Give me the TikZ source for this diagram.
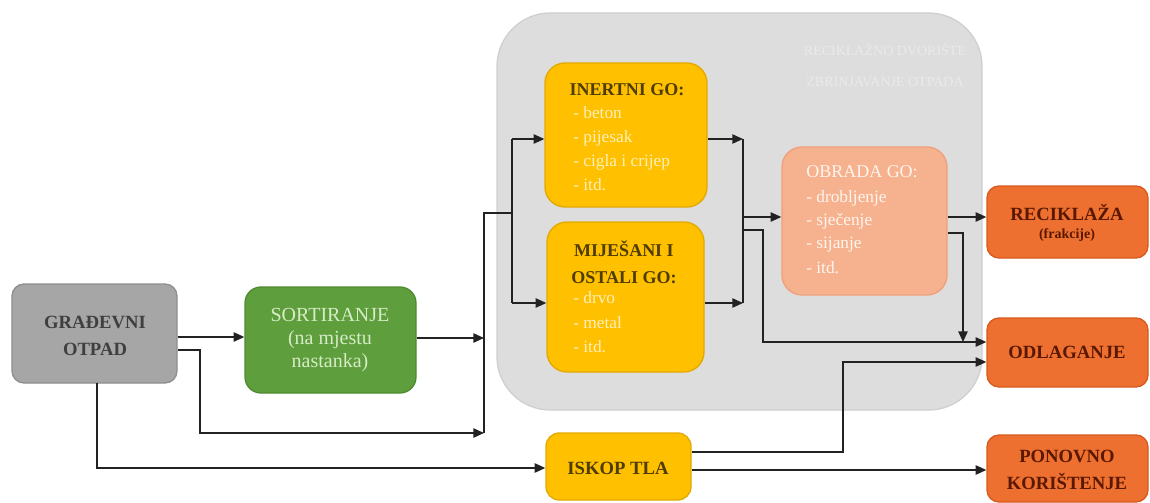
\documentclass[tikz,border=0pt]{standalone}
\usepackage{fontspec}
\setmainfont{Liberation Serif}
\usetikzlibrary{arrows.meta,fit}
\definecolor{bggray}{HTML}{DDDDDD}
\definecolor{bgedge}{HTML}{D0D0D0}
\definecolor{gfill}{HTML}{A6A6A6}
\definecolor{gedge}{HTML}{8E8E8E}
\definecolor{gtext}{HTML}{3F3F3F}
\definecolor{sfill}{HTML}{5E9E3C}
\definecolor{sedge}{HTML}{4F8A30}
\definecolor{stext}{HTML}{D6ECC6}
\definecolor{yfill}{HTML}{FFC000}
\definecolor{yedge}{HTML}{E3A900}
\definecolor{ytitle}{HTML}{4E3C00}
\definecolor{ytext}{HTML}{FFEFB8}
\definecolor{ofill}{HTML}{F6B28E}
\definecolor{oedge}{HTML}{EFA07A}
\definecolor{otext}{HTML}{FFF4EE}
\definecolor{rfill}{HTML}{EE7030}
\definecolor{redge}{HTML}{D65A1C}
\definecolor{rtext}{HTML}{5A1800}
\definecolor{faint}{HTML}{EAEAEA}
\definecolor{linec}{HTML}{222222}
\begin{document}
\begin{tikzpicture}[x=0.75pt,y=-0.75pt,
  boxbase/.style={inner sep=0pt, line width=1pt},
  graybox/.style={boxbase, fill=gfill, draw=gedge, rounded corners=9pt},
  greenbox/.style={boxbase, fill=sfill, draw=sedge, rounded corners=12pt},
  yellowbox/.style={boxbase, fill=yfill, draw=yedge, rounded corners=15pt},
  salmonbox/.style={boxbase, fill=ofill, draw=oedge, rounded corners=15pt},
  orangebox/.style={boxbase, fill=rfill, draw=redge, rounded corners=9pt},
  bigbox/.style={boxbase, fill=bggray, draw=bgedge, rounded corners=40pt},
  darkbold/.style={font=\fontsize{14}{20}\selectfont\bfseries, align=center, inner sep=0pt},
  ytitlest/.style={font=\fontsize{13.5}{20}\selectfont\bfseries, text=ytitle, align=center, inner sep=0pt},
  bullet/.style={font=\fontsize{13}{18}\selectfont, anchor=west, inner sep=0pt},
  arr/.style={draw=linec, line width=1.1pt, -{Triangle[length=8pt,width=7pt]}},
  ln/.style={draw=linec, line width=1.1pt}
]
\useasboundingbox[fill=white] (0,0) rectangle (1150,503);

% background area
\node[bigbox, fit={(497,13) (982,410)}] (bg) {};
\node[font=\fontsize{10.5}{12}\selectfont, text=faint, inner sep=0pt] (bgt1) at (885,50) {RECIKLAŽNO DVORIŠTE};
\node[font=\fontsize{10.5}{12}\selectfont, text=faint, inner sep=0pt] (bgt2) at (885,82) {ZBRINJAVANJE OTPADA};

% boxes
\node[graybox, fit={(12,284) (177,383)}] (grad) {};
\node[darkbold, text=gtext] (gradt) at (95,336) {GRAĐEVNI\\OTPAD};

\node[greenbox, fit={(245,287) (416,393)}] (sort) {};
\node[font=\fontsize{15}{17.6}\selectfont, text=stext, align=center, inner sep=0pt] (sortt) at (330,340) {SORTIRANJE\\(na mjestu\\nastanka)};

\node[yellowbox, fit={(545,63) (707,207)}] (inert) {};
\node[ytitlest] (inertt) at (627,90) {INERTNI GO:};
\node[bullet, text=ytext] (in1) at (573,113) {- beton};
\node[bullet, text=ytext] (in2) at (573,138) {- pijesak};
\node[bullet, text=ytext] (in3) at (573,162) {- cigla i crijep};
\node[bullet, text=ytext] (in4) at (573,185) {- itd.};

\node[yellowbox, fit={(547,222) (704,372)}] (mix) {};
\node[ytitlest] (mixt) at (624,262) {MIJEŠANI I\\OSTALI GO:};
\node[bullet, text=ytext] (mx1) at (573,298) {- drvo};
\node[bullet, text=ytext] (mx2) at (573,323) {- metal};
\node[bullet, text=ytext] (mx3) at (573,347) {- itd.};

\node[salmonbox, fit={(782,147) (947,295)}] (obr) {};
\node[font=\fontsize{13.5}{20}\selectfont, text=otext, inner sep=0pt] (obrt) at (862,172) {OBRADA GO:};
\node[bullet, text=otext] (ob1) at (806,198) {- drobljenje};
\node[bullet, text=otext] (ob2) at (806,221) {- sječenje};
\node[bullet, text=otext] (ob3) at (806,245) {- sijanje};
\node[bullet, text=otext] (ob4) at (806,268) {- itd.};

\node[orangebox, fit={(987,186) (1148,258)}] (rec) {};
\node[darkbold, text=rtext] (rect1) at (1067,212) {RECIKLAŽA};
\node[font=\fontsize{10.5}{12}\selectfont\bfseries, text=rtext, inner sep=0pt] (rect2) at (1067,235) {(frakcije)};

\node[orangebox, fit={(987,318) (1148,387)}] (odl) {};
\node[darkbold, text=rtext] (odlt) at (1067,352) {ODLAGANJE};

\node[orangebox, fit={(987,435) (1148,502)}] (pon) {};
\node[darkbold, text=rtext] (pont) at (1067,470) {PONOVNO\\KORIŠTENJE};

\node[yellowbox, rounded corners=10pt, fit={(546,433) (691,500)}] (isk) {};
\node[darkbold, text=ytitle] (iskt) at (618,468) {ISKOP TLA};

% junction coordinates
\coordinate (b1top) at (484,213);
\coordinate (b1bot) at (484,433);
\coordinate (sp) at (512,213);
\coordinate (sptop) at (512,139);
\coordinate (spbot) at (512,303);
\coordinate (b2top) at (743,139);
\coordinate (b2bot) at (743,303);
\coordinate (b2mid) at (743,217);
\coordinate (b2low) at (743,230);
\coordinate (odlA) at (963,342);

% connectors
\draw[arr] (grad.east |- 0,337) -- (sort.west |- 0,337);
\draw[arr] (grad.east |- 0,350) -| (200,433) -- (b1bot);
\draw[arr] (sort.east |- 0,338) -- (b1top |- 0,338);
\draw[ln] (b1bot) -- (b1top) -- (sp);
\draw[ln] (sptop) -- (spbot);
\draw[arr] (sptop) -- (inert.west |- sptop);
\draw[arr] (spbot) -- (mix.west |- spbot);
\draw[arr] (97,383) |- (isk.west |- 0,468);

\draw[arr] (inert.east |- b2top) -- (b2top);
\draw[arr] (mix.east |- b2bot) -- (b2bot);
\draw[ln] (b2top) -- (b2bot);
\draw[arr] (b2mid) -- (obr.west |- b2mid);
\draw[arr] (b2low) -| (763,342) -- (odl.west |- 0,342);

\draw[arr] (obr.east |- 0,217) -- (rec.west |- 0,217);
\draw[arr] (obr.east |- 0,233) -| (odlA);

\draw[arr] (isk.east |- 0,452) -| (843,362) -- (odl.west |- 0,362);
\draw[arr] (isk.east |- 0,470) -- (pon.west |- 0,470);
\end{tikzpicture}
\end{document}
